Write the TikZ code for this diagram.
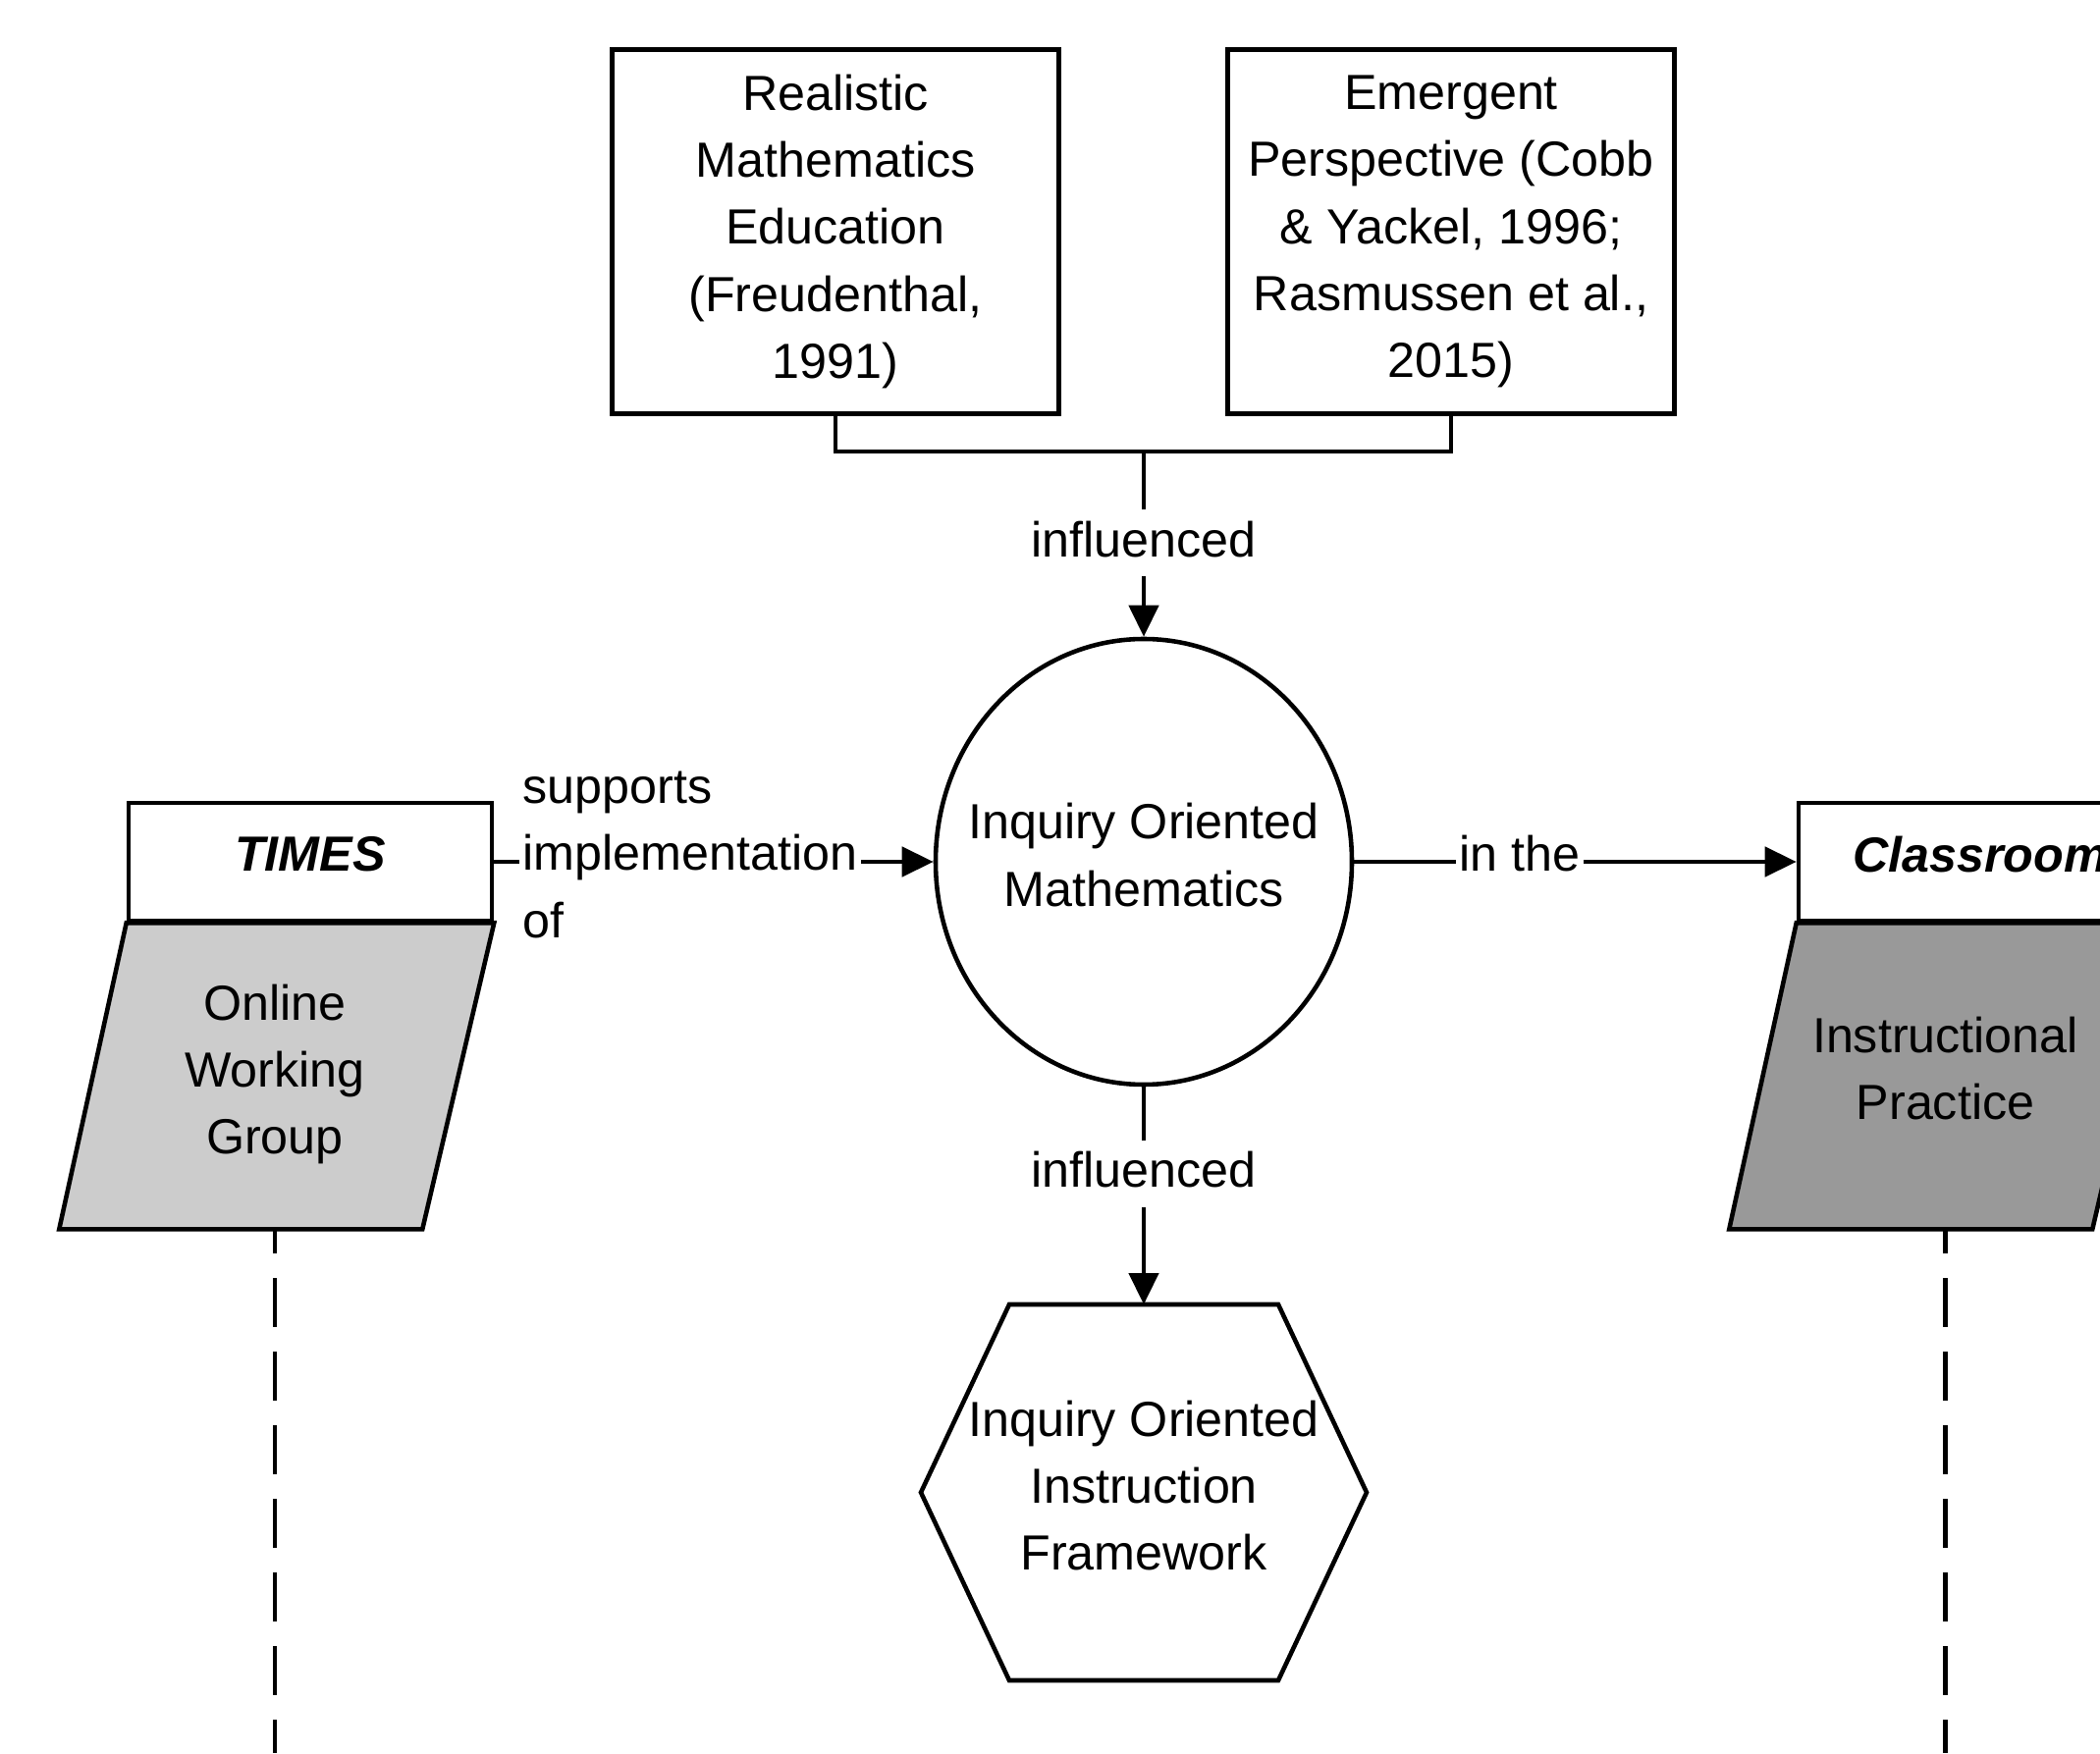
\documentclass[tikz,border=0pt]{standalone}
\usepackage{fontspec}
\setmainfont{Liberation Sans}
\usetikzlibrary{positioning,shapes.geometric,arrows.meta}
\definecolor{lightfill}{HTML}{CCCCCC}
\definecolor{darkfill}{HTML}{999999}

\begin{document}
\begin{tikzpicture}[>={Triangle[length=3.2mm,width=3mm]},line width=1.3pt,
	every node/.style={font=\fontsize{14.3pt}{19.4pt}\selectfont},
	srcbox/.style={draw,rectangle,minimum width=4.55cm,minimum height=3.71cm,align=center},
	ctxbox/.style={draw,rectangle,fill=white,minimum width=3.70cm,minimum height=1.20cm,text depth=0.16cm,font=\fontsize{14.3pt}{19.4pt}\selectfont\bfseries\itshape},
	lbl/.style={fill=white,inner xsep=1pt,inner ysep=0pt,align=center},
	lifeline/.style={dash pattern=on 0.5cm off 0.25cm,dash phase=0.25cm},]
		\useasboundingbox (0,0) rectangle (21.39,17.86);
		\clip (0,0) rectangle (21.39,17.86);
		% theory boxes
		\node (rme) [srcbox] at (8.51,15.50) {Realistic\\Mathematics\\Education\\(Freudenthal,\\1991)};
		\node (ep) [srcbox] at (14.78,15.50) {Emergent\\Perspective (Cobb\\\& Yackel, 1996;\\Rasmussen et al.,\\2015)};
		\coordinate (join) at (11.65,13.26);
		
		% middle column
		\node (iom) [draw,ellipse,inner sep=0pt,minimum width=4.24cm,minimum height=4.54cm] at (11.65,9.08) {};
		\node (iomtext) [align=center,yshift=0.07cm] at (iom.center) {Inquiry Oriented\\Mathematics};
		\node (ioif) [outer sep=0pt,minimum width=4.54cm,minimum height=3.83cm] at (11.65,2.655) {};
		\draw ([xshift=0.9cm]ioif.north west) -- ([xshift=-0.9cm]ioif.north east) -- (ioif.east)
			-- ([xshift=-0.9cm]ioif.south east) -- ([xshift=0.9cm]ioif.south west) -- (ioif.west) -- cycle;
		\node (ioiftext) [align=center,yshift=0.07cm] at (ioif.center) {Inquiry Oriented\\Instruction\\Framework};
		
		% left and right contexts
		\node (times) [ctxbox] at (3.16,9.08) {TIMES};
		\filldraw[fill=lightfill] (times.south west) -- (times.south east) -- ++(-0.73,-3.12)
			-- ++(-3.70,0) coordinate (owgbase) -- cycle;
		\node (owg) [align=center] at (2.80,6.912) {Online\\Working\\Group};
		\node (class) [ctxbox] at (20.17,9.08) {Classroom};
		\filldraw[fill=darkfill] (class.south west) -- (class.south east) -- ++(-0.73,-3.12)
			-- ++(-3.70,0) coordinate (ipbase) -- cycle;
		\node (ip) [align=center,yshift=0.06cm] at (19.815,6.912) {Instructional\\Practice};
		\coordinate (owgend) at (2.80,0);
		\coordinate (ipend) at (19.815,0);
		
		% connect the nodes
		\draw (rme.south) |- (join) -| (ep.south);
		\draw[->] (join) -- node[lbl,pos=0.495] {\strut influenced} (iom);
		\draw[->] (iom) -- node[lbl,pos=0.40] {\strut influenced} (ioif);
		\draw[->] (times) -- node[lbl,pos=0.446,align=left,yshift=0.07cm] {supports\\implementation\\of} (iom);
		\draw[->] (iom) -- node[lbl,pos=0.374,yshift=0.04cm] {\strut in the} (class);
		\draw[lifeline] (owg |- owgbase) -- (owgend);
		\draw[lifeline] (ip |- ipbase) -- (ipend);
	\end{tikzpicture}
\end{document}
